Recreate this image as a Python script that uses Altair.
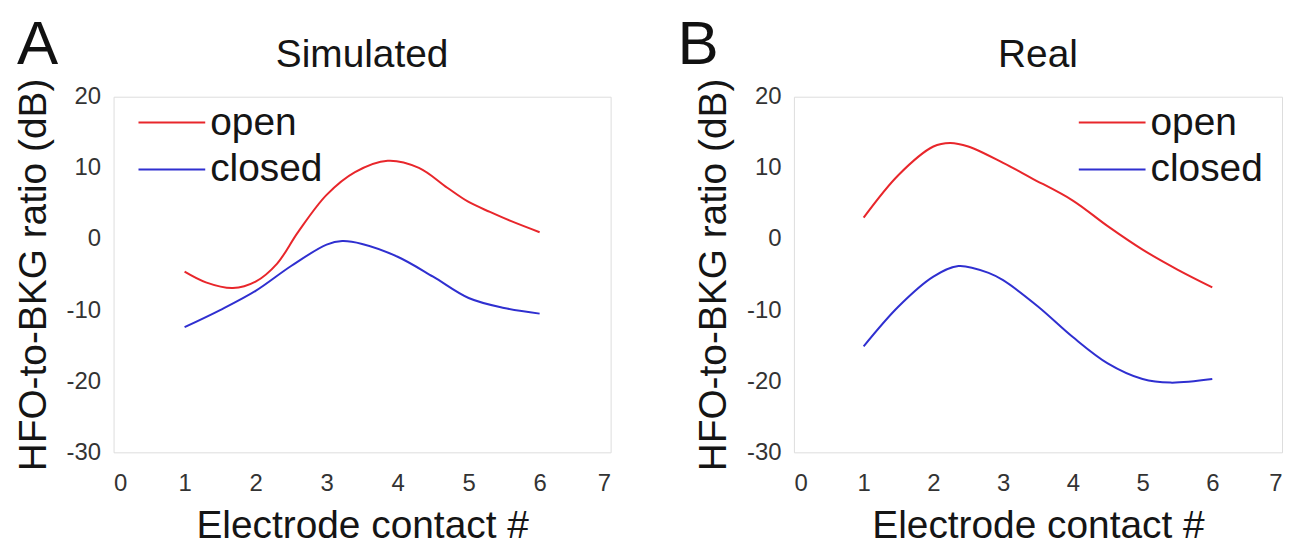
import altair as alt
import pandas as pd

# ---- data ----
sim_ox = [1.0, 1.3, 1.68, 2.0, 2.3, 2.6, 3.0, 3.4, 3.86, 4.3, 4.7, 5.0, 5.3, 5.6, 6.0]
sim_open = [-4.6, -6.1, -6.9, -6.0, -3.5, 1.0, 6.2, 9.4, 11.0, 10.0, 7.2, 5.2, 3.8, 2.5, 0.95]
sim_cx = [1.0, 1.5, 2.0, 2.5, 3.0, 3.22, 3.5, 4.0, 4.5, 5.0, 5.5, 6.0]
sim_closed = [-12.4, -10.0, -7.3, -3.8, -0.8, -0.3, -0.7, -2.5, -5.3, -8.3, -9.7, -10.5]

real_ox = [1.0, 1.5, 2.0, 2.24, 2.5, 3.0, 3.4, 4.0, 4.5, 5.0, 5.5, 6.0]
real_open = [3.0, 9.0, 13.0, 13.5, 13.0, 10.7, 8.6, 5.4, 1.8, -1.5, -4.3, -6.8]
real_cx = [1.0, 1.5, 2.0, 2.36, 2.8, 3.0, 3.5, 4.0, 4.5, 5.0, 5.4, 6.0]
real_closed = [-15.1, -9.5, -5.3, -3.8, -4.8, -5.8, -9.5, -13.8, -17.5, -19.7, -20.2, -19.7]

series = ["open", "closed"]
colors = ["#e8262b", "#2f2fd0"]
x_ticks = [0, 1, 2, 3, 4, 5, 6, 7]
y_ticks = [-30, -20, -10, 0, 10, 20]

FONT = "Liberation Sans"
TITLE_FS = 39
TICK_FS = 24
PLOT_H = 357


def frame(xo, yo, xc, yc):
    a = pd.DataFrame({"x": xo, "y": yo, "s": "open"})
    b = pd.DataFrame({"x": xc, "y": yc, "s": "closed"})
    return pd.concat([a, b], ignore_index=True)


def panel(df, title, letter, w, lx, ly, letter_dx):
    base = alt.Chart(df).mark_line(strokeWidth=2, interpolate="catmull-rom").encode(
        x=alt.X("x:Q", scale=alt.Scale(domain=[0, 7], nice=False),
                axis=alt.Axis(values=x_ticks, title="Electrode contact #",
                              grid=False, domain=False, ticks=False,
                              labelFontSize=TICK_FS, labelColor="#333", labelFont=FONT,
                              labelPadding=19, titleFontSize=TITLE_FS, titleFont=FONT,
                              titleFontWeight="normal", titleColor="#151515",
                              titlePadding=12, labelExpr="datum.value + ''")),
        y=alt.Y("y:Q", scale=alt.Scale(domain=[-30, 20], nice=False),
                axis=alt.Axis(values=y_ticks, title="HFO-to-BKG ratio (dB)",
                              grid=False, domain=False, ticks=False,
                              labelFontSize=TICK_FS, labelColor="#333", labelFont=FONT,
                              labelPadding=13, titleFontSize=TITLE_FS, titleFont=FONT,
                              titleFontWeight="normal", titleColor="#151515",
                              titlePadding=13, labelExpr="datum.value + ''")),
        color=alt.Color("s:N", scale=alt.Scale(domain=series, range=colors),
                        sort=series,
                        legend=alt.Legend(title=None, orient="none", legendX=lx, legendY=ly,
                                          symbolType="M-2.35,0H1", symbolSize=1600,
                                          symbolStrokeWidth=2, padding=0, rowPadding=6,
                                          labelOffset=4, labelFontSize=TITLE_FS, labelFont=FONT,
                                          labelColor="#151515")),
    )
    lab = alt.Chart(pd.DataFrame({"t": [letter]})).mark_text(
        font=FONT, fontSize=62, align="left", baseline="alphabetic", color="#111"
    ).encode(text="t:N", x=alt.value(letter_dx), y=alt.value(-33))
    ttl = alt.Chart(pd.DataFrame({"t": [title]})).mark_text(
        font=FONT, fontSize=TITLE_FS, align="center", baseline="alphabetic", color="#151515"
    ).encode(text="t:N", x=alt.value(w / 2), y=alt.value(-30))
    return alt.layer(base, lab, ttl).properties(width=w, height=PLOT_H)


pa = panel(frame(sim_ox, sim_open, sim_cx, sim_closed), "Simulated", "A", 499, 51, 5, -97)
pb = panel(frame(real_ox, real_open, real_cx, real_closed), "Real", "B", 490, 312, 5, -117)

chart = alt.hconcat(pa, pb, spacing=65).resolve_scale(color="independent").properties(
    padding={"left": 5, "top": 4, "right": 0, "bottom": 0}
).configure_view(stroke="#8a8a8a", strokeWidth=1.2).configure(background="white")

chart.save("out.html", embed_options={"renderer": "svg", "actions": False})
